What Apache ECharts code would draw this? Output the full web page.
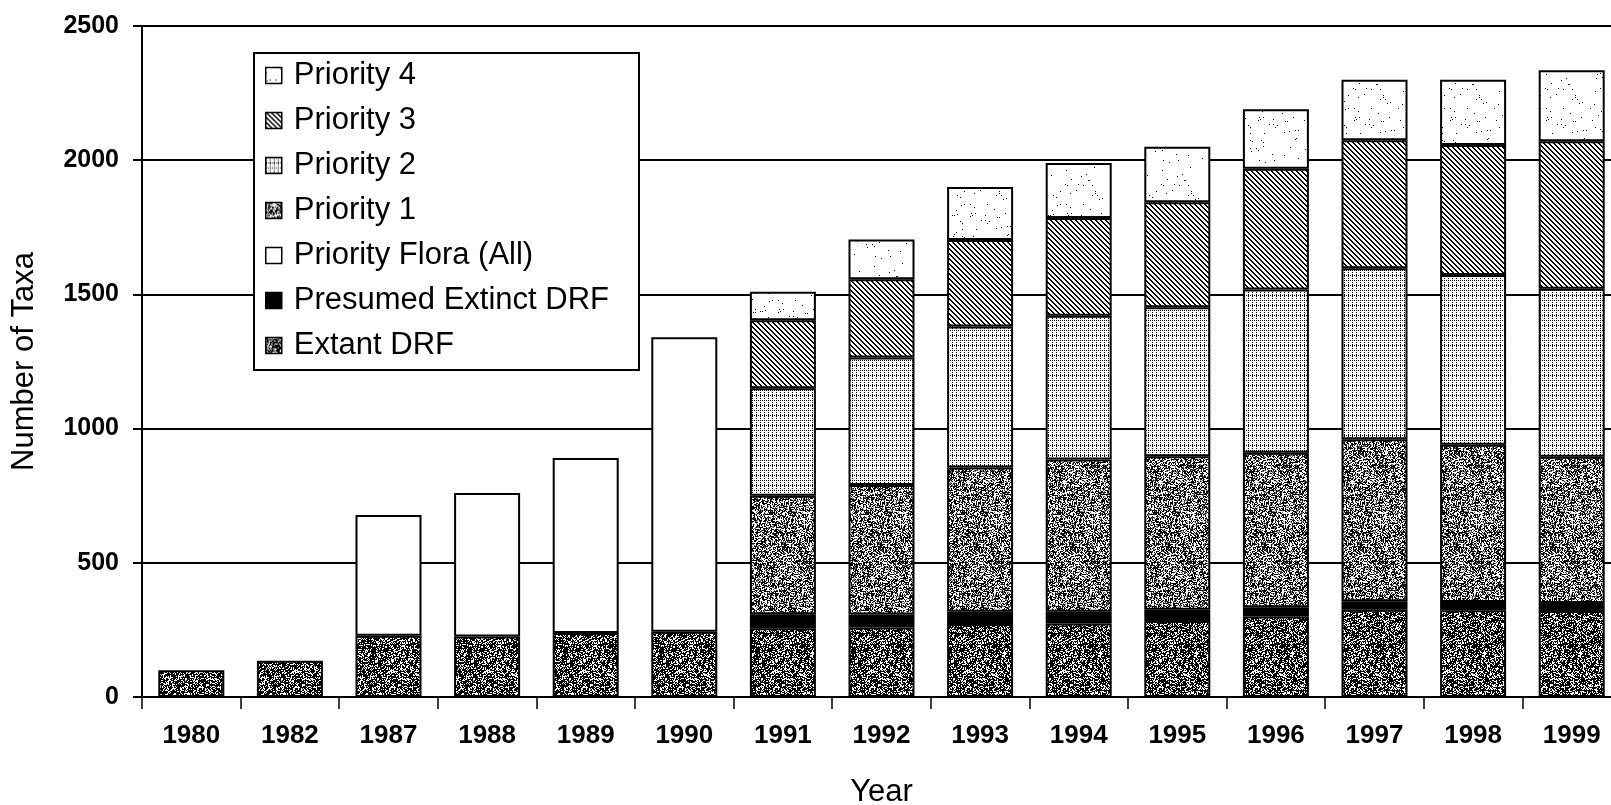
<!DOCTYPE html>
<html>
<head>
<meta charset="utf-8">
<script src="https://cdn.jsdelivr.net/npm/echarts@6/dist/echarts.min.js"></script>
<style>
html,body{margin:0;padding:0;background:#fff;}
#chart{width:1611px;height:805px;}
</style>
</head>
<body>
<div id="chart"></div>
<script>
const years = ['1980','1982','1987','1988','1989','1990','1991','1992','1993','1994','1995','1996','1997','1998','1999'];
const extantDRF = [100,135,228,225,238,243,256,259,272,274,283,300,325,323,320];
const presumedExtinctDRF = [null,null,null,null,null,null,52,48,46,44,42,34,32,31,30];
const priorityFloraAll = [null,null,450,535,652,1097,null,null,null,null,null,null,null,null,null];
const priority1 = [null,null,null,null,null,null,442,483,537,567,572,576,603,586,545];
const priority2 = [null,null,null,null,null,null,400,475,525,535,555,608,637,632,626];
const priority3 = [null,null,null,null,null,null,254,291,323,365,391,450,477,485,550];
const priority4 = [null,null,null,null,null,null,106,149,197,205,207,222,226,243,264];
const yTicks = [0,500,1000,1500,2000,2500];

// ---- texture helpers (styling only) ----
let seed = 12345;
function rnd(){ seed = (seed * 1103515245 + 12345) & 0x7fffffff; return seed / 0x7fffffff; }
function makePattern(w, h, fn){
  const c = document.createElement('canvas');
  c.width = w; c.height = h;
  const ctx = c.getContext('2d');
  const img = ctx.createImageData(w, h);
  for (let y = 0; y < h; y++) for (let x = 0; x < w; x++) {
    const v = fn(x, y);
    const i = (y * w + x) * 4;
    img.data[i] = v; img.data[i+1] = v; img.data[i+2] = v; img.data[i+3] = 255;
  }
  ctx.putImageData(img, 0, 0);
  return {image: c, repeat: 'repeat'};
}
const patExtant = makePattern(96, 96, () => rnd() < 0.66 ? 0 : 255);
const patP1 = makePattern(96, 96, (x, y) => {
  const r = rnd();
  return r < 0.45 ? 0 : (r < 0.58 ? 110 : 255);
});
const patP2 = makePattern(8, 10, (x, y) => ((x % 4 === 0 && y % 2 === 0) || (y % 5 === 0 && x % 2 === 0)) ? 0 : 255);
const patP3 = makePattern(5, 5, (x, y) => { const d = ((x - y) % 5 + 5) % 5; return (d === 0 || d === 1) ? 0 : 255; });
const patP4 = makePattern(96, 96, () => rnd() < 0.012 ? 0 : 255);

const border = {borderColor: '#000', borderWidth: 2};
function barSeries(name, data, color){
  return {
    name: name, type: 'bar', stack: 'total', data: data,
    barWidth: 66,
    itemStyle: Object.assign({color: color}, border),
    emphasis: {disabled: true}
  };
}

const chart = echarts.init(document.getElementById('chart'), null, {renderer: 'canvas'});
chart.setOption({
  animation: false,
  backgroundColor: '#fff',
  textStyle: {fontFamily: 'Liberation Sans, Arial, sans-serif', color: '#000'},
  grid: {left: 142, top: 26, width: 1479, height: 671, containLabel: false, outerBoundsMode: 'none'},
  legend: {
    orient: 'vertical',
    left: 254, top: 53,
    data: ['Priority 4','Priority 3','Priority 2','Priority 1','Priority Flora (All)','Presumed Extinct DRF','Extant DRF'],
    backgroundColor: '#fff',
    borderColor: '#000', borderWidth: 2,
    padding: [7, 30, 9, 11],
    itemWidth: 16, itemHeight: 16,
    itemGap: 14,
    icon: 'rect',
    itemStyle: {borderColor: '#000', borderWidth: 1.5},
    textStyle: {fontSize: 31, color: '#000', fontFamily: 'Liberation Sans, Arial, sans-serif', padding: [0,0,0,7]},
    selectedMode: false
  },
  xAxis: {
    type: 'category',
    data: years,
    name: 'Year',
    nameLocation: 'middle',
    nameGap: 80,
    nameTextStyle: {fontSize: 31, color: '#000'},
    axisLine: {lineStyle: {color: '#000', width: 2}},
    axisTick: {show: true, length: 12, lineStyle: {color: '#000', width: 1.5}},
    axisLabel: {fontSize: 26, fontWeight: 'bold', color: '#000', margin: 26, interval: 0}
  },
  yAxis: {
    type: 'value',
    min: yTicks[0], max: yTicks[yTicks.length-1], interval: 500,
    name: 'Number of Taxa',
    nameLocation: 'middle',
    nameRotate: 90,
    nameGap: 102,
    nameMoveOverlap: false,
    nameTextStyle: {fontSize: 31, color: '#000'},
    axisLine: {show: true, lineStyle: {color: '#000', width: 2}},
    axisTick: {show: true, length: 9, lineStyle: {color: '#000', width: 2}},
    axisLabel: {fontSize: 25, fontWeight: 'bold', color: '#000', margin: 23, formatter: function(v){ return String(v); }},
    splitLine: {show: true, lineStyle: {color: '#000', width: 2}}
  },
  series: [
    barSeries('Extant DRF', extantDRF, patExtant),
    barSeries('Presumed Extinct DRF', presumedExtinctDRF, '#000'),
    barSeries('Priority Flora (All)', priorityFloraAll, '#fff'),
    barSeries('Priority 1', priority1, patP1),
    barSeries('Priority 2', priority2, patP2),
    barSeries('Priority 3', priority3, patP3),
    barSeries('Priority 4', priority4, patP4)
  ]
});
</script>
</body>
</html>
